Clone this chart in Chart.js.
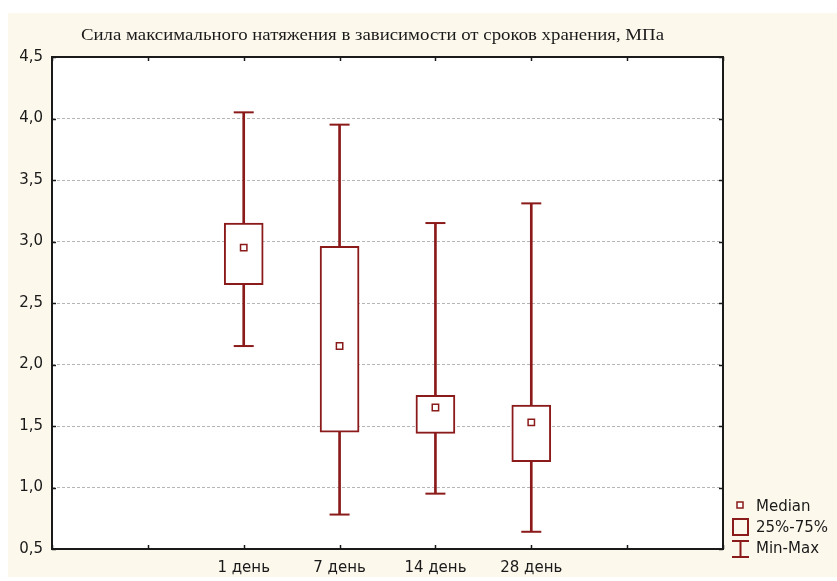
<!DOCTYPE html>
<html><head><meta charset="utf-8">
<script src="https://cdn.jsdelivr.net/npm/chart.js@4.4.0/dist/chart.umd.min.js"></script>
<style>html,body{margin:0;padding:0;background:#fff;} #wrap{width:837px;height:581px;position:relative;}</style>
</head><body><div id="wrap"><canvas id="c" width="837" height="581"></canvas></div>
<script>
const categories = ['1 день', '7 день', '14 день', '28 день'];
const minValues = [2.15, 0.78, 0.95, 0.64];
const q1Values = [2.65, 1.45, 1.44, 1.21];
const medianValues = [2.95, 2.15, 1.65, 1.53];
const q3Values = [3.15, 2.96, 1.75, 1.67];
const maxValues = [4.05, 3.95, 3.15, 3.31];
const yTickValues = [0.5, 1.0, 1.5, 2.0, 2.5, 3.0, 3.5, 4.0, 4.5];
const titleText = 'Сила максимального натяжения в зависимости от сроков хранения, МПа';
const legendLabels = ['Median', '25%-75%', 'Min-Max'];

const RED = '#8B1A1A';
const TEXT = '#1a1a1a';
const CREAM = '#FDF8EC';
const SANS = "'DejaVu Sans', 'Liberation Sans', Arial, sans-serif";
const SERIF = "'Liberation Serif', 'Times New Roman', serif";

const xLabels = ['', '', ...categories, '', ''];
const pad = arr => [null, null, ...arr, null, null];

const decor = {
  id: 'decor',
  beforeDraw(chart) {
    const ctx = chart.ctx, a = chart.chartArea;
    ctx.save();
    ctx.fillStyle = '#fff';
    ctx.fillRect(0, 0, chart.width, chart.height);
    ctx.fillStyle = CREAM;
    ctx.fillRect(8, 13, chart.width - 8, 564);
    ctx.fillStyle = '#fff';
    ctx.fillRect(a.left, a.top, a.right - a.left, a.bottom - a.top);
    ctx.restore();
  },
  afterDraw(chart) {
    const ctx = chart.ctx, a = chart.chartArea;
    const xs = chart.scales.x, ys = chart.scales.y;
    ctx.save();
    // frame
    ctx.strokeStyle = '#1a1a1a';
    ctx.lineWidth = 2;
    ctx.strokeRect(a.left, a.top, a.right - a.left, a.bottom - a.top);
    // inner tick marks
    ctx.lineWidth = 1.5;
    ctx.beginPath();
    ys.ticks.forEach(t => {
      const y = Math.round(ys.getPixelForValue(t.value)) + 0.5;
      ctx.moveTo(a.left, y); ctx.lineTo(a.left + 4, y);
      ctx.moveTo(a.right, y); ctx.lineTo(a.right - 4, y);
    });
    xs.ticks.forEach((t, i) => {
      const x = Math.round(xs.getPixelForTick(i)) + 0.5;
      ctx.moveTo(x, a.bottom); ctx.lineTo(x, a.bottom - 4);
      ctx.moveTo(x, a.top); ctx.lineTo(x, a.top + 4);
    });
    ctx.stroke();
    // title
    ctx.fillStyle = TEXT;
    ctx.font = '17px ' + SERIF;
    ctx.textBaseline = 'middle';
    ctx.textAlign = 'center';
    const w = ctx.measureText(titleText).width;
    const target = 583;
    ctx.save();
    ctx.translate(372.5, 36);
    ctx.scale(target / w, 1);
    ctx.fillText(titleText, 0, 0);
    ctx.restore();
    // legend
    ctx.strokeStyle = RED;
    ctx.fillStyle = '#fff';
    ctx.lineWidth = 1.5;
    ctx.fillRect(737, 502, 6, 6);
    ctx.strokeRect(737, 502, 6, 6);
    ctx.lineWidth = 2;
    ctx.strokeRect(733, 519, 15, 16);
    ctx.beginPath();
    ctx.moveTo(732, 541); ctx.lineTo(749, 541);
    ctx.moveTo(732, 557); ctx.lineTo(749, 557);
    ctx.moveTo(740.5, 541); ctx.lineTo(740.5, 557);
    ctx.stroke();
    ctx.fillStyle = TEXT;
    ctx.font = '15px ' + SANS;
    ctx.textAlign = 'left';
    ctx.fillText(legendLabels[0], 756, 507);
    ctx.fillText(legendLabels[1], 756, 528);
    ctx.fillText(legendLabels[2], 756, 549);
    ctx.restore();
  }
};

new Chart(document.getElementById('c'), {
  type: 'bar',
  data: {
    labels: xLabels,
    datasets: [
      { type: 'line', label: 'Median', data: pad(medianValues), showLine: false,
        pointStyle: 'rect', pointRadius: 4.5, pointBorderWidth: 1.5,
        pointBackgroundColor: '#fff', pointBorderColor: RED, order: 0 },
      { type: 'bar', label: '25%-75%', data: pad(categories.map((c, i) => [q1Values[i], q3Values[i]])),
        backgroundColor: '#fff', borderColor: RED, borderWidth: 2, borderSkipped: false,
        barThickness: 39, grouped: false, order: 1 },
      { type: 'bar', label: 'Min-Max', data: pad(categories.map((c, i) => [minValues[i], maxValues[i]])),
        backgroundColor: RED, borderWidth: 0, barThickness: 2, grouped: false, order: 2 },
      { type: 'line', label: 'Max', data: pad(maxValues), showLine: false,
        pointStyle: 'line', pointRadius: 10, pointBorderWidth: 2, pointBorderColor: RED, order: 3 },
      { type: 'line', label: 'Min', data: pad(minValues), showLine: false,
        pointStyle: 'line', pointRadius: 10, pointBorderWidth: 2, pointBorderColor: RED, order: 3 }
    ]
  },
  options: {
    responsive: false,
    animation: false,
    events: [],
    layout: { padding: { left: 0, top: 57, right: 114, bottom: 0 } },
    plugins: { legend: { display: false }, title: { display: false }, tooltip: { enabled: false } },
    scales: {
      x: {
        type: 'category', offset: false,
        grid: { display: false, drawTicks: false, offset: false },
        border: { display: false },
        ticks: { font: { family: SANS, size: 15 }, color: TEXT, padding: 10, autoSkip: false, maxRotation: 0 },
        afterFit: s => { s.height = 32; }
      },
      y: {
        min: 0.5, max: 4.5,
        afterBuildTicks: s => { s.ticks = yTickValues.map(v => ({ value: v })); },
        ticks: { font: { family: SANS, size: 15 }, color: TEXT, padding: 9,
          callback: v => Number(v).toFixed(1).replace('.', ',') },
        grid: { drawTicks: false, lineWidth: 1,
          color: c => (c.tick && (c.tick.value === 0.5 || c.tick.value === 4.5)) ? 'rgba(0,0,0,0)' : '#b5b5b5' },
        border: { display: false, dash: [3, 2] },
        afterFit: s => { s.width = 52; }
      }
    }
  },
  plugins: [decor]
});
</script></body></html>
